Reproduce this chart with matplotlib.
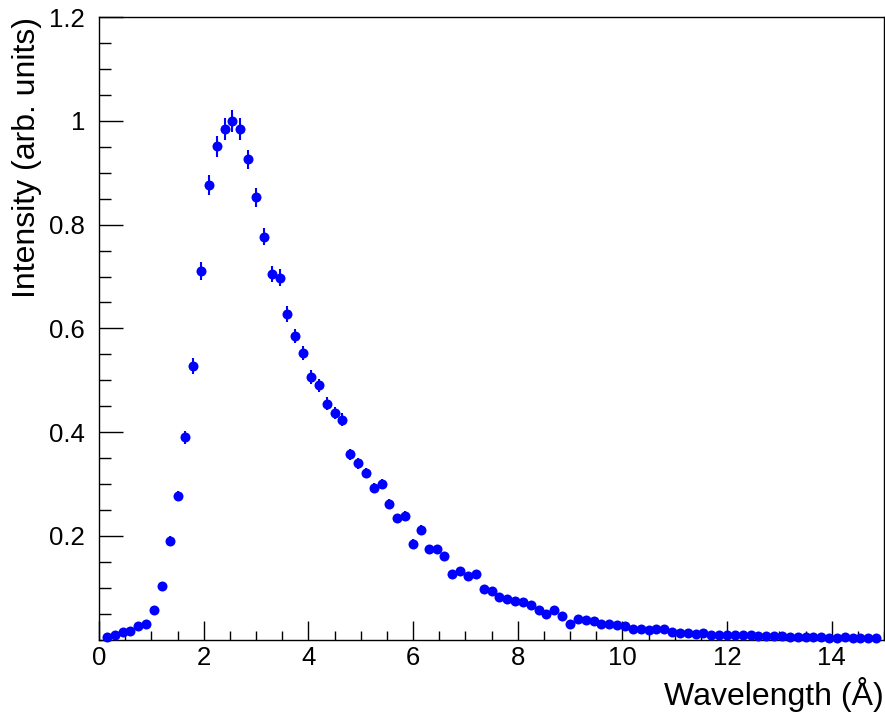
import matplotlib
matplotlib.use("Agg")
import matplotlib.pyplot as plt
from matplotlib.ticker import MultipleLocator, FixedLocator, FixedFormatter

plt.rcParams['font.family'] = ['Liberation Sans', 'DejaVu Sans']

# bin index (bin width 0.15 Angstrom)
bin_index = list(range(1, 100))
bin_width = 0.15
wavelength = [k * bin_width for k in bin_index]

intensity = [
    0.005, 0.008, 0.015, 0.017, 0.026, 0.030, 0.057, 0.104, 0.190, 0.277,
    0.390, 0.528, 0.711, 0.876, 0.951, 0.985, 1.000, 0.985, 0.926, 0.853,
    0.777, 0.705, 0.698, 0.628, 0.585, 0.553, 0.506, 0.490, 0.455, 0.437,
    0.424, 0.357, 0.340, 0.321, 0.292, 0.300, 0.262, 0.234, 0.238, 0.185,
    0.212, 0.174, 0.175, 0.162, 0.126, 0.133, 0.123, 0.127, 0.097, 0.094,
    0.082, 0.078, 0.074, 0.072, 0.067, 0.057, 0.050, 0.056, 0.045, 0.029,
    0.040, 0.038, 0.036, 0.030, 0.030, 0.028, 0.027, 0.020, 0.020, 0.018,
    0.020, 0.020, 0.015, 0.012, 0.012, 0.010, 0.012, 0.009, 0.009, 0.009,
    0.009, 0.008, 0.008, 0.006, 0.006, 0.006, 0.006, 0.004, 0.004, 0.004,
    0.004, 0.004, 0.002, 0.003, 0.004, 0.002, 0.002, 0.002, 0.002,
]

errors = [
    0.001, 0.002, 0.002, 0.003, 0.003, 0.003, 0.005, 0.006, 0.009, 0.010,
    0.012, 0.015, 0.018, 0.019, 0.020, 0.021, 0.021, 0.021, 0.019, 0.018,
    0.017, 0.016, 0.016, 0.015, 0.014, 0.014, 0.013, 0.013, 0.012, 0.012,
    0.012, 0.011, 0.011, 0.010, 0.010, 0.010, 0.009, 0.009, 0.009, 0.008,
    0.008, 0.008, 0.008, 0.007, 0.007, 0.007, 0.007, 0.007, 0.006, 0.006,
    0.006, 0.006, 0.005, 0.005, 0.005, 0.005, 0.004, 0.004, 0.004, 0.003,
    0.004, 0.004, 0.004, 0.003, 0.003, 0.003, 0.003, 0.003, 0.003, 0.003,
    0.003, 0.003, 0.002, 0.002, 0.002, 0.002, 0.002, 0.002, 0.002, 0.002,
    0.002, 0.002, 0.002, 0.002, 0.002, 0.002, 0.002, 0.001, 0.001, 0.001,
    0.001, 0.001, 0.001, 0.001, 0.001, 0.001, 0.001, 0.001, 0.001,
]

x_ticks = [0, 2, 4, 6, 8, 10, 12, 14]
x_ticklabels = ['0', '2', '4', '6', '8', '10', '12', '14']
y_ticks = [0.2, 0.4, 0.6, 0.8, 1.0, 1.2]
y_ticklabels = ['0.2', '0.4', '0.6', '0.8', '1', '1.2']

W, H = 885, 715
fig = plt.figure(figsize=(W / 100, H / 100), dpi=100)
ax = fig.add_axes([99 / W, 1 - 639.5 / H, (884 - 99) / W, (639.5 - 17.3) / H])

ax.errorbar(wavelength, intensity, yerr=errors, fmt='o', color='#0000ff',
            markersize=7.2, elinewidth=1.5, capsize=2.0, capthick=1.5,
            markeredgewidth=0, zorder=3, clip_on=False)

ax.set_xlim(0, 15)
ax.set_ylim(0, 1.2)

ax.xaxis.set_major_locator(FixedLocator(x_ticks))
ax.xaxis.set_major_formatter(FixedFormatter(x_ticklabels))
ax.xaxis.set_minor_locator(MultipleLocator(0.5))
ax.yaxis.set_major_locator(FixedLocator(y_ticks))
ax.yaxis.set_major_formatter(FixedFormatter(y_ticklabels))
ax.yaxis.set_minor_locator(MultipleLocator(0.05))

ax.tick_params(axis='x', which='major', direction='in', length=13.7, width=1,
               labelsize=18.5, pad=5, top=False)
ax.tick_params(axis='x', which='minor', direction='in', length=6.8, width=1, top=False)
ax.tick_params(axis='y', which='major', direction='in', length=17, width=1,
               labelsize=18.5, pad=10, right=False)
ax.tick_params(axis='y', which='minor', direction='in', length=8.5, width=1, right=False)

for s in ax.spines.values():
    s.set_linewidth(1.0)
    s.set_color('black')

fig.text(884 / W, 1 - 705 / H, 'Wavelength (Å)', ha='right', va='baseline', fontsize=23)
fig.text(27 / W, 1 - 17 / H, 'Intensity (arb. units)', ha='center', va='top',
         rotation=90, fontsize=23)

fig.savefig('out.png', dpi=100)
